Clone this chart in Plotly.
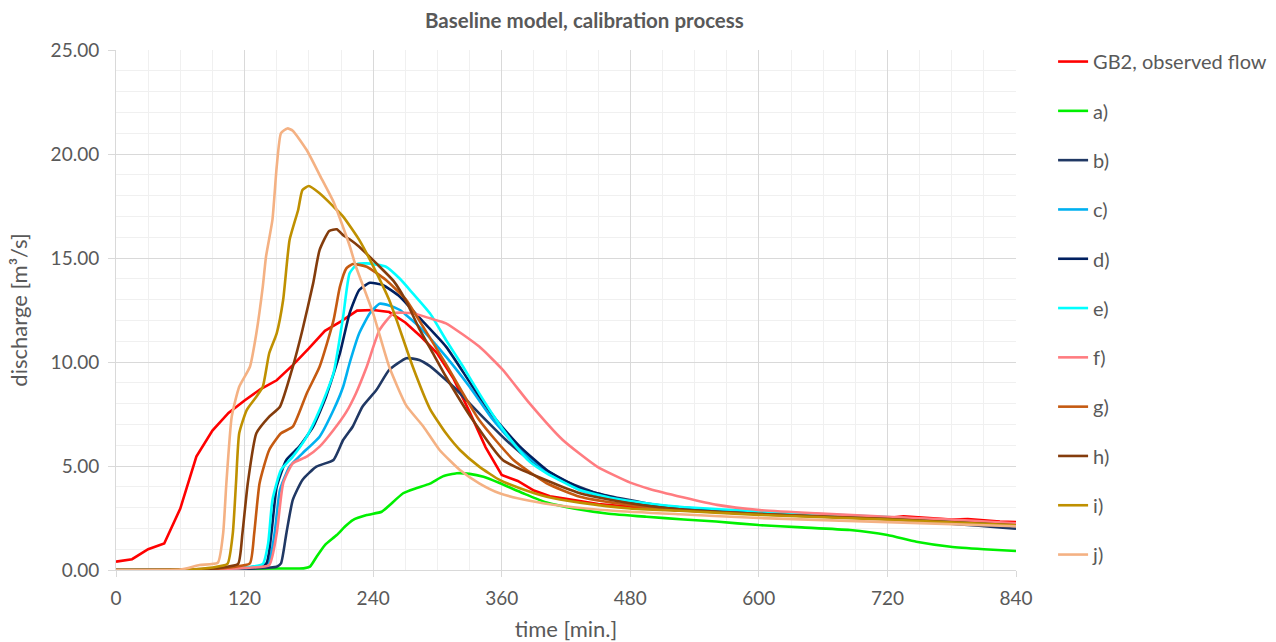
import plotly.graph_objects as go

# ---- data (time [min], discharge [m3/s]) ----
t_obs = [0,15,30,45,60,75,90,105,120,135,150,165,180,195,210,225,240,255,270,285,300,315,330,345,360,375,390,405,420,435,450,480,510,540,570,600,630,660,690,720,735,750,765,780,795,810,825,840]
q_obs = [0.40,0.52,1.0,1.27,2.95,5.45,6.7,7.55,8.15,8.7,9.12,9.85,10.65,11.5,11.95,12.47,12.5,12.4,11.9,11.2,10.4,9.2,7.6,5.9,4.57,4.28,3.82,3.55,3.42,3.28,3.17,3.04,2.92,2.84,2.78,2.72,2.67,2.62,2.56,2.5,2.58,2.52,2.46,2.42,2.45,2.38,2.33,2.3]

t_a = [0,60,100,150,175,181,188,195,206,214,221,234,248,255,268,280,293,305,318,330,343,358,380,402,427,458,495,530,560,600,640,685,720,747,779,810,840]
q_a = [0,0.01,0.05,0.07,0.08,0.16,0.7,1.2,1.68,2.1,2.4,2.64,2.8,3.1,3.69,3.93,4.15,4.5,4.65,4.62,4.48,4.18,3.69,3.24,2.96,2.72,2.56,2.43,2.33,2.16,2.05,1.92,1.68,1.36,1.12,1.0,0.91]

t_b = [0,90,130,150,154,159,165,174,187,203,212,221,230,243,255,271,283,293,315,339,364,386,417,449,495,526,600,720,840]
q_b = [0,0.02,0.08,0.16,0.32,1.76,3.37,4.33,4.97,5.29,6.25,6.9,7.85,8.65,9.62,10.18,10.1,9.8,8.81,7.53,6.25,5.29,4.33,3.69,3.21,3.01,2.75,2.45,1.98]

t_c = [0,80,120,142,148,153,162,174,190,203,212,218,227,237,246,255,265,271,283,308,330,352,377,402,433,480,526,600,720,840]
q_c = [0,0.02,0.1,0.29,1.76,3.85,4.97,5.61,6.41,7.69,8.81,9.94,11.38,12.34,12.8,12.72,12.5,12.25,11.7,10.26,8.81,7.21,5.77,4.73,3.85,3.24,2.96,2.75,2.5,2.15]

t_d = [0,80,120,140,145,150,159,171,184,196,209,218,227,237,249,265,280,308,333,355,377,402,433,480,526,600,720,840]
q_d = [0,0.02,0.1,0.29,1.76,4.0,5.29,5.93,6.89,8.33,10.42,12.34,13.46,13.81,13.7,13.14,12.3,10.74,8.81,7.21,5.93,4.81,3.93,3.29,2.96,2.75,2.5,2.12]

t_e = [0,80,120,137,142,146,154,165,178,190,203,212,218,225,234,252,265,277,293,308,324,339,355,371,386,402,433,464,495,526,600,720,840]
q_e = [0,0.02,0.12,0.29,1.28,3.37,4.81,5.45,6.41,7.69,9.46,12.18,14.26,14.7,14.74,14.58,14.0,13.3,12.34,11.06,9.77,8.49,7.21,6.09,5.21,4.65,3.85,3.45,3.21,3.04,2.82,2.55,2.2]

t_f = [0,80,120,143,150,156,165,178,190,203,215,224,234,246,259,277,293,308,339,361,386,417,449,480,498,529,561,601,654,720,780,840]
q_f = [0,0.02,0.1,0.24,1.76,4.17,5.13,5.45,5.93,6.73,7.6,8.5,9.77,11.54,12.34,12.34,12.1,11.86,10.74,9.62,8.01,6.25,4.97,4.2,3.9,3.5,3.13,2.88,2.72,2.56,2.42,2.25]

t_g = [0,75,110,125,129,134,143,154,165,178,190,203,209,215,221,234,252,271,277,308,339,371,402,433,480,526,600,720,840]
q_g = [0,0.02,0.15,0.32,1.76,4.17,5.77,6.57,6.89,8.49,9.77,12.0,13.62,14.5,14.71,14.58,13.94,12.98,12.5,9.9,7.21,5.29,4.17,3.52,3.12,2.88,2.7,2.45,2.12]

t_h = [0,70,100,114,118,123,131,143,153,165,174,184,190,199,206,212,218,227,243,259,271,283,296,308,333,361,386,433,480,526,600,720,840]
q_h = [0,0.02,0.12,0.29,1.76,4.17,6.57,7.37,7.85,9.77,11.54,13.78,15.38,16.3,16.38,16.1,15.9,15.54,14.74,13.9,12.9,11.6,10.4,9.29,7.21,5.29,4.65,3.69,3.21,2.92,2.68,2.45,2.15]

t_i = [0,65,90,104,109,112,115,122,131,137,143,150,156,162,170,174,180,190,203,212,227,243,255,262,277,293,308,321,339,358,377,402,433,480,526,600,720,840]
q_i = [0,0.02,0.12,0.29,1.76,4.17,6.57,7.69,8.33,8.81,10.42,11.38,12.98,15.87,17.31,18.27,18.46,18.11,17.47,16.99,15.87,14.3,12.98,12.0,9.77,7.75,6.57,5.77,4.97,4.33,3.93,3.52,3.24,2.96,2.85,2.65,2.42,2.15]

t_j = [0,60,78,95,100,103,108,115,125,131,137,140,146,150,154,160,165,178,190,203,218,224,240,255,271,287,302,321,339,358,386,417,464,526,600,720,840]
q_j = [0,0.02,0.24,0.35,1.76,4.17,7.37,8.81,9.77,11.38,13.62,15.06,16.83,19.39,21.0,21.23,21.12,20.19,19.0,17.7,15.6,14.58,12.34,9.77,7.9,6.89,5.77,4.81,4.17,3.69,3.33,3.08,2.85,2.68,2.5,2.3,2.1]

names = ["GB2, observed flow", "a)", "b)", "c)", "d)", "e)", "f)", "g)", "h)", "i)", "j)"]
colors = ["#FF0000", "#00F000", "#203864", "#00B0F0", "#002060", "#00FFFF",
          "#FF7C80", "#C55A11", "#843C0C", "#BF9000", "#F4B183"]
series = [(t_obs, q_obs), (t_a, q_a), (t_b, q_b), (t_c, q_c), (t_d, q_d), (t_e, q_e),
          (t_f, q_f), (t_g, q_g), (t_h, q_h), (t_i, q_i), (t_j, q_j)]

FONT = "Lato"
GRAY = "#595959"

fig = go.Figure()
for k, ((tt, qq), nm, col) in enumerate(zip(series, names, colors)):
    fig.add_trace(go.Scatter(
        x=tt, y=qq, name=nm, mode="lines", legendgroup=nm,
        line=dict(color=col, width=2.6,
                  shape="linear" if k == 0 else "spline",
                  smoothing=0 if k == 0 else 0.5),
    ))

fig.update_layout(
    width=1276, height=642,
    margin=dict(l=116, r=260, t=50, b=72, autoexpand=False),
    paper_bgcolor="white", plot_bgcolor="white",
    font=dict(family=FONT, size=19, color=GRAY),
    showlegend=True,
    legend=dict(xref="container", yref="container", x=0.8253, y=0.9345,
                xanchor="left", yanchor="top",
                font=dict(family=FONT, size=20, color=GRAY),
                tracegroupgap=20.3, itemwidth=30, maxheight=620,
                bgcolor="rgba(0,0,0,0)"),
    annotations=[dict(text="<b>Baseline model, calibration process</b>",
                      xref="paper", yref="paper", x=0.52, y=1.0, yshift=30,
                      xanchor="center", yanchor="middle", showarrow=False,
                      font=dict(family=FONT, size=20.5, color=GRAY))],
)

fig.update_xaxes(
    range=[0, 840], tickmode="linear", tick0=0, dtick=120,
    showgrid=True, gridcolor="#D9D9D9", gridwidth=1,
    minor=dict(dtick=30, showgrid=True, gridcolor="#F0F0F0", gridwidth=1),
    showline=True, linecolor="#D9D9D9", linewidth=1,
    ticks="outside", ticklen=6, tickcolor="#D9D9D9", ticklabelstandoff=5,
    zeroline=False, automargin=False,
    title=dict(text="time [min.]", font=dict(family=FONT, size=22, color=GRAY), standoff=17),
    tickfont=dict(family=FONT, size=19, color=GRAY),
)
fig.update_yaxes(
    range=[0, 25], tickmode="linear", tick0=0, dtick=5, tickformat=".2f",
    showgrid=True, gridcolor="#D9D9D9", gridwidth=1,
    minor=dict(dtick=1, showgrid=True, gridcolor="#F0F0F0", gridwidth=1),
    showline=True, linecolor="#D9D9D9", linewidth=1,
    ticks="outside", ticklen=7, tickcolor="#D9D9D9", ticklabelstandoff=5,
    zeroline=False, automargin=False,
    title=dict(text="discharge [m³/s]", font=dict(family=FONT, size=22, color=GRAY), standoff=16),
    tickfont=dict(family=FONT, size=19, color=GRAY),
)

fig.write_html("out.html")
